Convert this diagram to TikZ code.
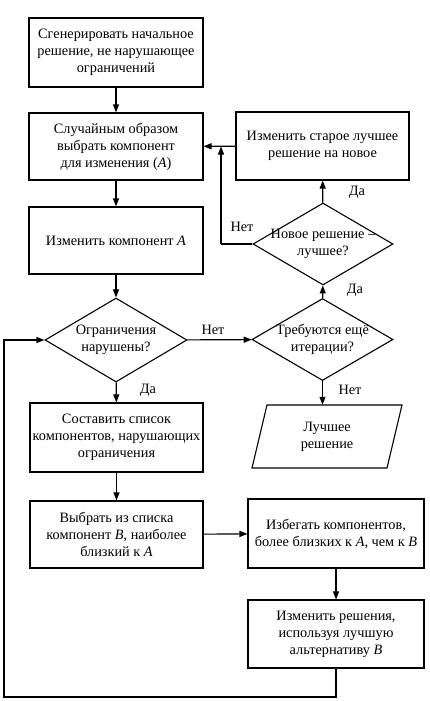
\documentclass[tikz,border=0pt]{standalone}
\usepackage{fontspec}
\setmainfont{Liberation Serif}
\usetikzlibrary{shapes.geometric,arrows.meta}
\begin{document}
\begin{tikzpicture}[x=1pt,y=-1pt,
  every node/.style={font=\fontsize{14.3}{17}\selectfont},
  box/.style={draw, line width=1.1pt, inner sep=0pt, align=center},
  dia/.style={draw, diamond, line width=1.1pt, inner sep=0pt},
  txt/.style={align=center, inner sep=0pt},
  lbl/.style={inner sep=0pt},
  arr/.style={line width=1.1pt, -{Triangle[length=8pt,width=6pt]}},
  ln/.style={line width=1.1pt}]
\useasboundingbox (0,0) rectangle (429,701);
\fill[white] (0,0) rectangle (429,701);

\node[box, minimum width=174pt, minimum height=69pt] (b1) at (116,52.5)
  {Сгенерировать начальное\\решение, не нарушающее\\ограничений};
\node[box, minimum width=174pt, minimum height=67pt] (b2) at (116,146.5)
  {Случайным образом\\выбрать компонент\\для изменения (\textit{A})};
\node[box, minimum width=174pt, minimum height=67pt] (b3) at (116,240.5)
  {Изменить компонент \textit{A}};
\node[dia, minimum width=142pt, minimum height=84pt] (d1) at (116,340) {};
\node[txt] at (d1.center) {Ограничения\\нарушены?};
\node[dia, minimum width=141pt, minimum height=82pt] (d2) at (322.5,339.5) {};
\node[txt] at (d2.center) {Требуются ещё\\итерации?};
\node[dia, minimum width=140pt, minimum height=82pt] (d3) at (323,244) {};
\node[txt] at (d3.center) {Новое решение –\\лучшее?};
\node[box, minimum width=173pt, minimum height=68pt] (b4) at (322.5,146)
  {Изменить старое лучшее\\решение на новое};
\node[txt, minimum width=150pt, minimum height=63pt] (par) at (327,436.5)
  {Лучшее\\решение};
\draw[ln] (267,405) -- (402,405) -- (387,468) -- (252,468) -- cycle;
\node[box, minimum width=173pt, minimum height=69pt] (b5) at (116.5,437.5)
  {Составить список\\компонентов, нарушающих\\ограничения};
\node[box, minimum width=173pt, minimum height=67pt] (b6) at (116.5,534.5)
  {Выбрать из списка\\компонент \textit{B}, наиболее\\близкий к \textit{A}};
\node[box, minimum width=176pt, minimum height=69pt] (b7) at (336,533.5)
  {Избегать компонентов,\\более близких к \textit{A}, чем к \textit{B}};
\node[box, minimum width=176pt, minimum height=68pt] (b8) at (336,634)
  {Изменить решения,\\используя лучшую\\альтернативу \textit{B}};

\coordinate (c1) at (221,244);
\coordinate (c2) at (4,697);

\draw[arr] (b1) -- (b2);
\draw[arr] (b2) -- (b3);
\draw[arr] (b3) -- (d1);
\draw[arr] (d1) -- (d2);
\draw[arr] (d2.south) -- (d2.south |- par.north);
\draw[arr] (d2) -- (d3);
\draw[arr] (d3) -- (b4);
\draw[arr] (b4) -- (b2);
\draw[ln] (d3.west) -- (c1);
\draw[arr] (c1) -- (c1 |- b2.east);
\draw[arr] (d1) -- (b5);
\draw[arr] (b5) -- (b6);
\draw[arr] (b6) -- (b7);
\draw[arr] (b7) -- (b8);
\draw[arr] (b8.south) |- (c2) |- (d1.west);

\node[lbl] at (213,330) {Нет};
\node[lbl] at (148,390) {Да};
\node[lbl] at (350,390) {Нет};
\node[lbl] at (355,290) {Да};
\node[lbl] at (357,192) {Да};
\node[lbl] at (242,227) {Нет};
\end{tikzpicture}
\end{document}
